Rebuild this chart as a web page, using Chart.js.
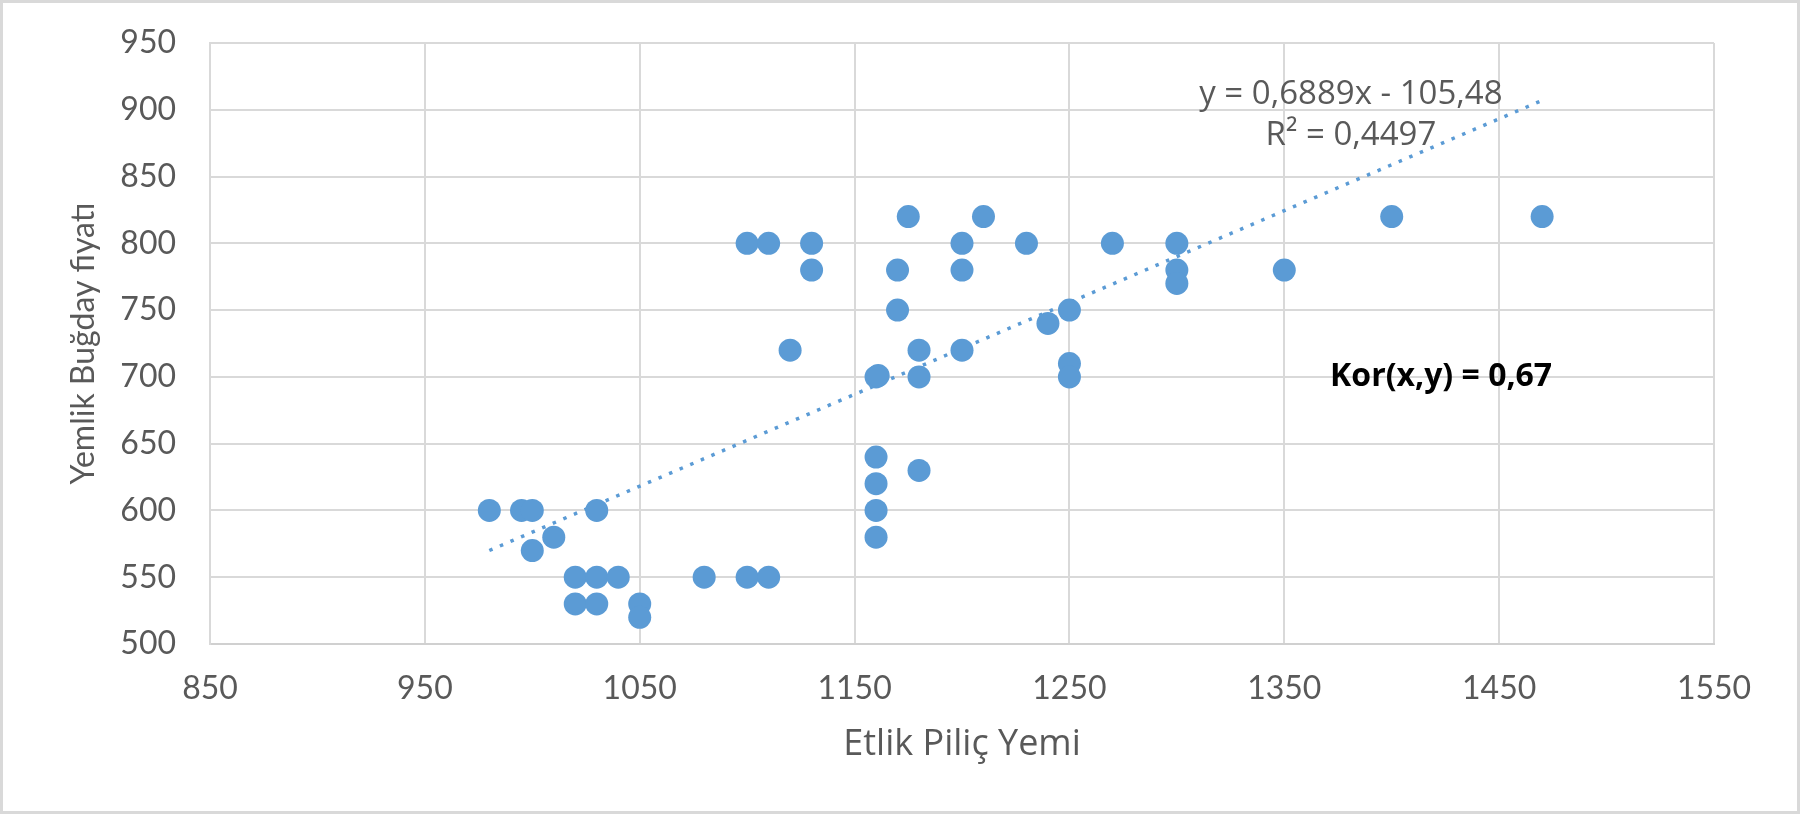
<!DOCTYPE html>
<html>
<head>
<meta charset="utf-8">
<script src="https://cdn.jsdelivr.net/npm/chart.js@4"></script>
<style>
  html, body { margin: 0; padding: 0; background: #fff; }
  #wrap { position: relative; width: 1800px; height: 814px; }
  #frame { position: absolute; left: 0; top: 0; width: 1800px; height: 814px;
           box-sizing: border-box; border: 3px solid #d9d9d9; pointer-events: none; }
</style>
</head>
<body>
<div id="wrap">
  <canvas id="scatter" width="1800" height="814"></canvas>
  <div id="frame"></div>
</div>
<script>
// Etlik Piliç Yemi (x) vs Yemlik Buğday fiyatı (y)
const feedPrice = [980, 995, 1000, 1000, 1010, 1030, 1020, 1030, 1040, 1020,
  1030, 1050, 1050, 1080, 1100, 1110, 1100, 1110, 1130, 1130,
  1120, 1160, 1161, 1160, 1160, 1160, 1160, 1170, 1170, 1175,
  1180, 1180, 1180, 1200, 1200, 1200, 1210, 1230, 1240, 1250,
  1250, 1250, 1270, 1300, 1300, 1300, 1350, 1400, 1470];
const wheatPrice = [600, 600, 600, 570, 580, 600, 550, 550, 550, 530,
  530, 530, 520, 550, 550, 550, 800, 800, 800, 780,
  720, 700, 701, 640, 620, 600, 580, 780, 750, 820,
  720, 700, 630, 800, 780, 720, 820, 800, 740, 750,
  710, 700, 800, 800, 780, 770, 780, 820, 820];

// trendline ends
const trendX = [980, 1470];
const trendY = [570, 907];

const xTicks = [850, 950, 1050, 1150, 1250, 1350, 1450, 1550];
const yTicks = [500, 550, 600, 650, 700, 750, 800, 850, 900, 950];

const noteText = ['y = 0,6889x - 105,48', 'R\u00B2 = 0,4497', 'Kor(x,y) = 0,67'];

const blue = '#5b9bd5';
const grey = '#595959';

Chart.defaults.font.family = 'Lato, "Open Sans", sans-serif';
Chart.defaults.font.size = 32;
Chart.defaults.color = grey;

// text boxes placed in data units
const notes = {
  id: 'notes',
  afterDatasetsDraw(chart) {
    const { ctx, scales: { x, y } } = chart;
    const spots = [
      { x: 1381, y: 911, font: '33px "Open Sans"', color: grey },
      { x: 1381, y: 881, font: '33px "Open Sans"', color: grey },
      { x: 1423, y: 700, font: 'bold 32px "Open Sans"', color: '#000' }
    ];
    ctx.save();
    ctx.textAlign = 'center';
    ctx.textBaseline = 'middle';
    spots.forEach((s, i) => {
      ctx.font = s.font;
      ctx.fillStyle = s.color;
      ctx.fillText(noteText[i], x.getPixelForValue(s.x), y.getPixelForValue(s.y));
    });
    ctx.restore();
  }
};

const ctx = document.getElementById('scatter').getContext('2d');

new Chart(ctx, {
  type: 'scatter',
  data: {
    datasets: [{
      label: 'Veri',
      data: feedPrice.map((v, i) => ({ x: v, y: wheatPrice[i] })),
      backgroundColor: blue,
      borderColor: blue,
      borderWidth: 0,
      pointRadius: 11.5,
      pointHoverRadius: 11.5,
      order: 1
    }, {
      type: 'line',
      label: 'Trend',
      data: trendX.map((v, i) => ({ x: v, y: trendY[i] })),
      borderColor: blue,
      borderWidth: 3.5,
      borderDash: [3.5, 8],
      pointRadius: 0,
      fill: false,
      order: 2
    }]
  },
  options: {
    responsive: false,
    animation: false,
    devicePixelRatio: 1,
    layout: { padding: { left: 45, right: 86, top: 43, bottom: 40 } },
    plugins: {
      legend: { display: false },
      tooltip: { enabled: false }
    },
    scales: {
      x: {
        type: 'linear',
        min: 850,
        max: 1550,
        afterBuildTicks: s => { s.ticks = xTicks.map(v => ({ value: v })); },
        afterFit: s => { s.height = 130; },
        ticks: { padding: 25, color: grey, maxRotation: 0, callback: v => String(v) },
        grid: { color: '#d9d9d9', lineWidth: 2, drawTicks: false },
        border: { color: '#d0d0d0', width: 2 },
        title: {
          display: true,
          text: 'Etlik Piliç Yemi',
          color: grey,
          font: { family: '"Open Sans"', size: 36 },
          padding: { top: 0, bottom: 8 }
        }
      },
      y: {
        type: 'linear',
        min: 500,
        max: 950,
        afterBuildTicks: s => { s.ticks = yTicks.map(v => ({ value: v })); },
        afterFit: s => { s.width = 165; s.paddingTop = 0; s.paddingBottom = 0; },
        ticks: { padding: 34, color: grey, callback: v => String(v) },
        grid: { color: '#d9d9d9', lineWidth: 2, drawTicks: false },
        border: { color: '#d9d9d9', width: 2 },
        title: {
          display: true,
          text: 'Yemlik Buğday fiyatı',
          color: grey,
          font: { size: 32 },
          padding: { top: 19, bottom: 0 }
        }
      }
    }
  },
  plugins: [notes]
});
</script>
</body>
</html>
